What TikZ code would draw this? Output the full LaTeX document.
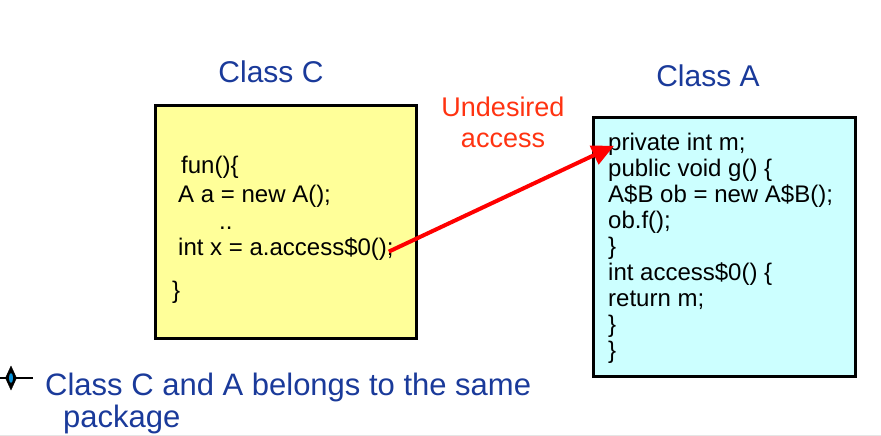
\documentclass[tikz,border=0pt]{standalone}
\usepackage{fontspec}
\setmainfont{Liberation Sans}
\usetikzlibrary{positioning}
\usetikzlibrary{arrows.meta}
\definecolor{notepaper}{HTML}{FFFF99}
\definecolor{classcyan}{HTML}{CCFFFF}
\definecolor{titleblue}{HTML}{1A3A9A}
\definecolor{warnred}{HTML}{FF3311}

\begin{document}
\begin{tikzpicture}[x=1pt,y=-1pt,>={Triangle[length=22pt,width=20pt]},
	class box/.style={draw,line width=3pt,inner sep=0pt},
	title/.style={font=\fontsize{30}{32}\selectfont,text=titleblue,inner sep=0pt,anchor=base},
	note/.style={font=\fontsize{31}{32}\selectfont,text=titleblue,inner sep=0pt,anchor=base west},
	warn/.style={font=\fontsize{27}{30}\selectfont,text=warnred,inner sep=0pt,anchor=base},
	code/.style={font=\fontsize{24}{26}\selectfont,inner sep=0pt,anchor=base west}]
	
	\useasboundingbox (0,0) rectangle (881,436);
	\draw[black!10,line width=1pt] (0,435) -- (881,435);
	
	% the two classes
	\node[class box,fill=notepaper,minimum width=261pt,minimum height=233pt] (c) at (285.5,221.5) {};
	\node[class box,fill=classcyan,minimum width=262pt,minimum height=259pt] (a) at (724,246.5) {};
	\node[title] (ctitle) at (271,83) {Class C};
	\node[title] (atitle) at (708,87) {Class A};
	
	% code of class C
	\node[code] (cline1) at (181,173) {fun()\{};
	\node[code] (cline2) at (178,202) {A a = new A();};
	\node[code] (cline3) at (219,229) {..};
	\node[code] (cline4) at (178,255) {int x = a.access\$0();};
	\node[code] (cline5) at (172,298) {\}};
	
	% code of class A
	\foreach \txt [count=\i from 0] in {private int m;, public void g() \{, A\$B ob = new A\$B();, ob.f();, \}, int access\$0() \{, return m;, \}, \}}
	\node[code] (aline\i) at (608,150+26*\i) {\txt};
	
	\node[warn] (warn1) at (503,117) {Undesired};
	\node[warn] (warn2) at (503,147) {access};
	\draw[->,red,line width=4pt] ([xshift=-5pt,yshift=-3pt]cline4.east) -- ([xshift=6pt,yshift=-2pt]aline0.west);
	
	% bullet
	\draw[line width=2.5pt] (0,378) -- (33,378);
	\filldraw (11,366) -- (16.5,378) -- (11,390) -- (5.5,378) -- cycle;
	\fill[cyan!80!blue] (11,378) ellipse (2 and 5);
	\node[note] (note1) at (45,395) {Class C and A belongs to the same};
	\node[note] (note2) at (63,427) {package};
\end{tikzpicture}
\end{document}
